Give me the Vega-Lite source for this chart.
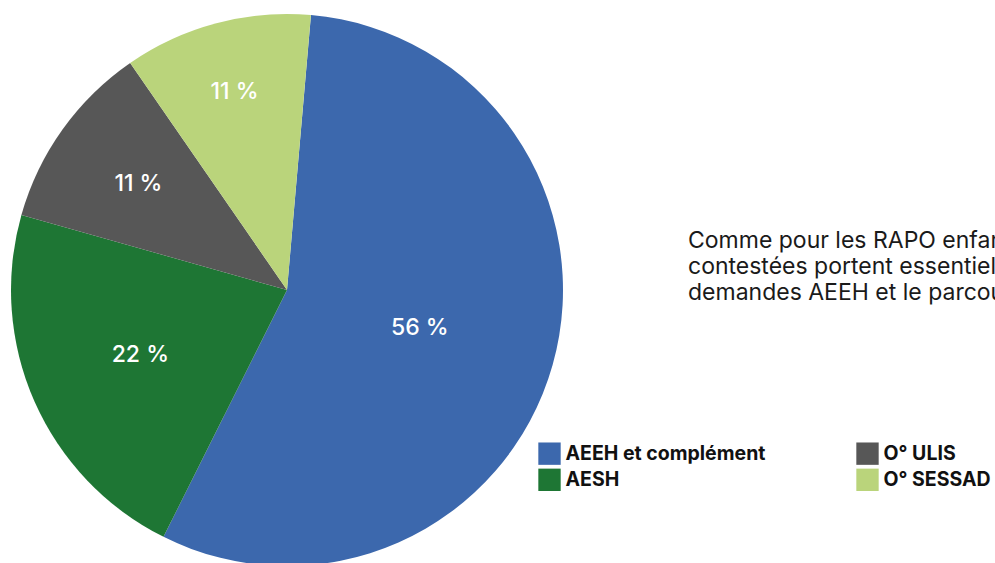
{
  "$schema": "https://vega.github.io/schema/vega-lite/v6.json",
  "width": 995,
  "height": 563,
  "autosize": "none",
  "padding": 0,
  "background": "#ffffff",
  "config": {"view": {"stroke": null}, "font": "Inter"},
  "datasets": {
    "parts": [
      {"motif": "AEEH et complément", "part": 56},
      {"motif": "AESH", "part": 22},
      {"motif": "O° ULIS", "part": 11},
      {"motif": "O° SESSAD", "part": 11}
    ],
    "note": [
      {"ligne": ["Comme pour les RAPO enfants, les décisions", "contestées portent essentiellement sur les", "demandes AEEH et le parcours de scolarisation."]}
    ]
  },
  "data": {"name": "parts"},
  "transform": [
    {"calculate": "indexof(['AEEH et complément', 'AESH', 'O° ULIS', 'O° SESSAD'], datum.motif)", "as": "rang"},
    {"stack": "part", "groupby": [], "sort": [{"field": "rang", "order": "ascending"}], "as": ["debut", "fin"]},
    {"calculate": "(datum.debut + datum.fin) / 2", "as": "milieu"},
    {"calculate": "datum.part + ' %'", "as": "etiquette"}
  ],
  "layer": [
    {
      "mark": {"type": "arc", "outerRadius": 276, "x": 287, "y": 290, "stroke": null},
      "encoding": {
        "theta": {"field": "debut", "type": "quantitative", "stack": null, "scale": {"domain": [0, 100], "range": [0.087, 6.370]}},
        "theta2": {"field": "fin"},
        "color": {
          "field": "motif",
          "type": "nominal",
          "sort": ["AEEH et complément", "AESH", "O° ULIS", "O° SESSAD"],
          "scale": {
            "domain": ["AEEH et complément", "AESH", "O° ULIS", "O° SESSAD"],
            "range": ["#3c68ad", "#1e7634", "#575757", "#bad47b"]
          },
          "legend": {
            "orient": "none",
            "legendX": 538,
            "legendY": 442,
            "title": null,
            "columns": 2,
            "columnPadding": 90,
            "rowPadding": 3.3,
            "symbolType": "square",
            "symbolSize": 500,
            "symbolStrokeWidth": 0,
            "symbolOpacity": 1,
            "labelFont": "Inter",
            "labelFontSize": 19.5,
            "labelFontWeight": "bold",
            "labelColor": "#111111",
            "labelOffset": 4.5,
            "labelLimit": 300
          }
        }
      }
    },
    {
      "mark": {"type": "text", "x": 287, "y": 290, "color": "#ffffff", "fontSize": 23, "fontWeight": 500, "font": "Inter"},
      "encoding": {
        "theta": {"field": "milieu", "type": "quantitative", "stack": null},
        "radius": {
          "field": "motif",
          "type": "nominal",
          "scale": {"type": "point", "padding": 0, "domain": ["AEEH et complément", "AESH", "O° ULIS", "O° SESSAD"], "range": [138, 205]}
        },
        "text": {"field": "etiquette"}
      }
    },
    {
      "data": {"name": "note"},
      "transform": [],
      "mark": {"type": "text", "align": "left", "baseline": "alphabetic", "fontSize": 23, "lineHeight": 26, "color": "#1a1a1a", "font": "Inter", "x": 688, "y": 248},
      "encoding": {"text": {"field": "ligne"}}
    }
  ]
}
